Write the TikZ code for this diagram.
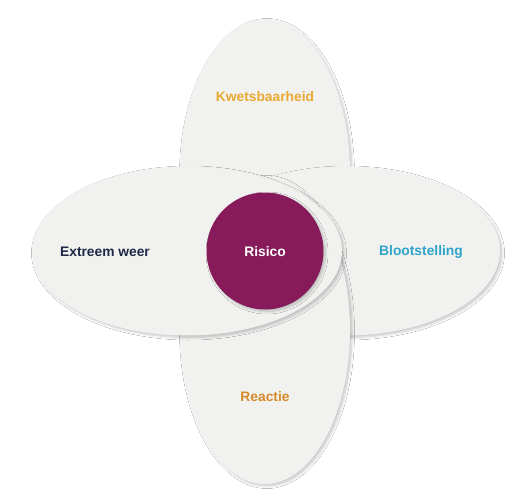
\documentclass[tikz,border=0pt]{standalone}
\usepackage{fontspec}
\setmainfont{Liberation Sans}
\usetikzlibrary{shadows.blur}
\definecolor{petal}{HTML}{F1F1F0}
\definecolor{risk}{HTML}{861A5B}
\definecolor{ckwets}{HTML}{E9A933}
\definecolor{cextreem}{HTML}{1E2A45}
\definecolor{cbloot}{HTML}{2EA4CA}
\definecolor{creactie}{HTML}{D58B2C}
\begin{document}
\begin{tikzpicture}[x=1pt,y=-1pt,
  softshadow/.style={blur shadow={shadow xshift=2pt,shadow yshift=-2pt,shadow blur radius=2.5pt,shadow opacity=22,shadow blur steps=8}},
  petalshape/.style={fill=petal,draw=none,softshadow},
  lbl/.style={font=\fontsize{13.8}{16}\selectfont\bfseries,inner sep=0pt}]
\useasboundingbox[fill=white] (0,0) rectangle (519,500);
% petals, bottom-most first
\path[petalshape] (265,173) ellipse [x radius=85,y radius=154];
\path[petalshape] (345,251) ellipse [x radius=155,y radius=84.5];
\path[petalshape] (265,330) ellipse [x radius=85,y radius=154];
\path[petalshape] (187,251) ellipse [x radius=155,y radius=84.5];
% centre
\node[circle,fill=risk,minimum size=117pt,inner sep=0pt,softshadow]
  (risico) at (265,251) {};
\node[lbl,text=white] (risicolbl) at (265,252) {Risico};
\node[lbl,text=ckwets] (kwets) at (265,97) {Kwetsbaarheid};
\node[lbl,text=cextreem] (extreem) at (105,252) {Extreem weer};
\node[lbl,text=cbloot] (bloot) at (421,252) {Blootstelling};
\node[lbl,text=creactie] (reactie) at (265,397) {Reactie};
\end{tikzpicture}
\end{document}
